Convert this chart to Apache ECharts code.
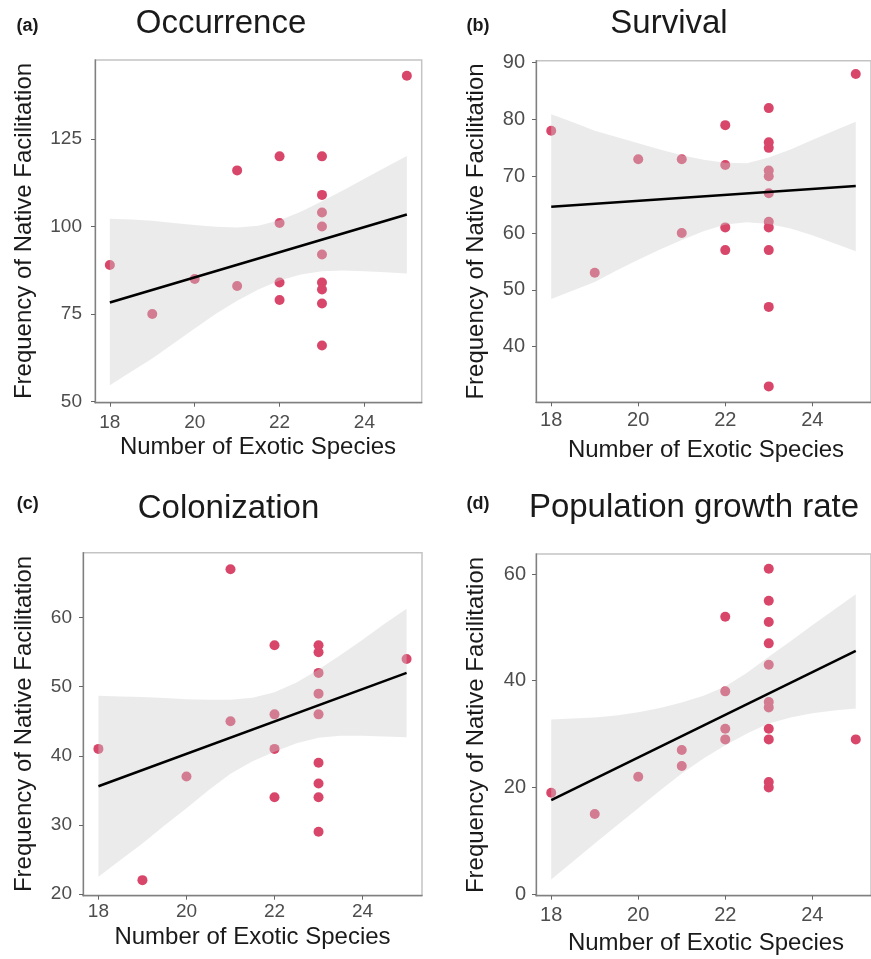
<!DOCTYPE html>
<html><head><meta charset="utf-8">
<script src="https://cdn.jsdelivr.net/npm/echarts@6/dist/echarts.min.js"></script>
<style>html,body{margin:0;padding:0;background:#fff}#c{width:871px;height:959px}</style>
</head><body><div id="c"></div>
<script>
// ---- tick labels ----
const xTicks = [18, 20, 22, 24];
const occTicks = [50, 75, 100, 125];
const survTicks = [40, 50, 60, 70, 80, 90];
const colTicks = [20, 30, 40, 50, 60];
const popTicks = [0, 20, 40, 60];

// ---- observations ----
const occX = [18, 19, 20, 21, 21, 22, 22, 22, 22, 23, 23, 23, 23, 23, 23, 23, 23, 23, 25];
const occY = [89, 75, 85, 116, 83, 120, 101, 84, 79, 120, 109, 104, 100, 92, 84, 82, 78, 66, 143];

const survX = [18, 19, 20, 21, 21, 22, 22, 22, 22, 23, 23, 23, 23, 23, 23, 23, 23, 23, 23, 23, 25];
const survY = [78, 53, 73, 73, 60, 79, 72, 61, 57, 82, 76, 75, 71, 70, 67, 62, 61, 57, 47, 33, 88];

const colX = [18, 19, 20, 21, 21, 22, 22, 22, 22, 23, 23, 23, 23, 23, 23, 23, 23, 23, 25];
const colY = [41, 22, 37, 67, 45, 56, 46, 41, 34, 56, 55, 52, 49, 46, 39, 36, 34, 29, 54];

const popX = [18, 19, 20, 21, 21, 22, 22, 22, 22, 23, 23, 23, 23, 23, 23, 23, 23, 23, 23, 23, 25];
const popY = [19, 15, 22, 27, 24, 52, 38, 31, 29, 61, 55, 51, 47, 43, 36, 35, 31, 29, 21, 20, 29];

// ---- fitted lines ----
const fitX = [18, 25];
const occFit = [78.3, 103.4];
const survFit = [64.65, 68.3];
const colFit = [35.6, 52.0];
const popFit = [17.6, 45.6];

// ---- confidence bands ----
const bandX = [18, 18.5, 19, 19.5, 20, 20.5, 21, 21.5, 22, 22.5, 23, 23.5, 24, 24.5, 25];
const occUpper = [102.2, 102.0, 101.6, 101.0, 100.4, 99.9, 99.7, 100.2, 101.8, 104.2, 107.2, 110.3, 113.6, 116.9, 120.1];
const occLower = [54.7, 58.5, 62.3, 66.6, 70.9, 75.1, 78.8, 82.0, 84.6, 86.3, 87.2, 87.4, 87.2, 86.9, 86.6];
const survUpper = [80.9, 79.5, 78.0, 76.9, 75.8, 74.7, 73.7, 72.9, 72.4, 72.3, 73.3, 74.7, 76.4, 78.0, 79.6];
const survLower = [48.4, 49.9, 51.4, 53.4, 55.3, 57.1, 58.8, 60.3, 61.5, 61.9, 61.6, 60.8, 59.6, 58.2, 56.8];
const colUpper = [48.7, 48.6, 48.5, 48.35, 48.2, 48.1, 48.1, 48.4, 49.2, 50.6, 52.5, 54.6, 56.8, 59.1, 61.3];
const colLower = [22.5, 24.9, 27.3, 29.9, 32.4, 35.0, 37.4, 39.2, 40.6, 41.8, 42.6, 42.9, 42.9, 42.8, 42.7];
const popUpper = [32.75, 32.9, 33.1, 33.5, 34.1, 34.9, 35.9, 37.2, 38.9, 41.5, 44.5, 47.4, 50.4, 53.3, 56.2];
const popLower = [2.75, 6.1, 9.5, 12.8, 16.1, 19.4, 22.6, 25.4, 27.9, 30.1, 32.0, 33.1, 33.9, 34.4, 34.8];

const FONT = "'Liberation Sans', Arial, Helvetica, sans-serif";
const POINT = '#D8476A';
const BAND = 'rgba(204,204,204,0.4)';

const panels = [
  {x: occX, y: occY, fit: occFit, up: occUpper, lo: occLower, yTicks: occTicks,
   grid: {left: 95, top: 60, width: 326.7, height: 342.7}, ymin: 49.7, ymax: 147.5, fs: 19, xm: 11, ym: 13},
  {x: survX, y: survY, fit: survFit, up: survUpper, lo: survLower, yTicks: survTicks,
   grid: {left: 536, top: 60.7, width: 339.6, height: 341.6}, ymin: 30.2, ymax: 90.35, fs: 20, xm: 8, ym: 11},
  {x: colX, y: colY, fit: colFit, up: colUpper, lo: colLower, yTicks: colTicks,
   grid: {left: 83, top: 552.7, width: 339, height: 343}, ymin: 19.75, ymax: 69.4, fs: 19, xm: 7, ym: 11},
  {x: popX, y: popY, fit: popFit, up: popUpper, lo: popLower, yTicks: popTicks,
   grid: {left: 536, top: 554, width: 339.6, height: 341.7}, ymin: -0.3, ymax: 63.75, fs: 20, xm: 10, ym: 10}
];

const grids = [], xAxes = [], yAxes = [], series = [];
panels.forEach((p, i) => {
  grids.push(Object.assign({show: true, borderColor: '#C4C4C4', borderWidth: 1.5, backgroundColor: 'transparent', containLabel: false}, p.grid));
  xAxes.push({
    type: 'value', gridIndex: i, min: 17.65, max: 25.35,
    splitLine: {show: false},
    axisLine: {show: true, onZero: false, lineStyle: {color: '#808080', width: 1.3}},
    axisTick: {show: true, length: 4, customValues: xTicks, lineStyle: {color: '#666'}},
    axisLabel: {customValues: xTicks, margin: p.xm, fontSize: p.fs, color: '#4D4D4D', fontFamily: FONT}
  });
  yAxes.push({
    type: 'value', gridIndex: i, min: p.ymin, max: p.ymax,
    splitLine: {show: false},
    axisLine: {show: true, onZero: false, lineStyle: {color: '#808080', width: 1.3}},
    axisTick: {show: true, length: 4, customValues: p.yTicks, lineStyle: {color: '#666'}},
    axisLabel: {customValues: p.yTicks, margin: p.ym, fontSize: p.fs, color: '#4D4D4D', fontFamily: FONT}
  });
  series.push({
    type: 'scatter', xAxisIndex: i, yAxisIndex: i, z: 2, silent: true,
    symbolSize: 10, itemStyle: {color: POINT, opacity: 1},
    data: p.x.map((v, k) => [v, p.y[k]])
  });
  const up = p.up, lo = p.lo;
  series.push({
    type: 'custom', xAxisIndex: i, yAxisIndex: i, z: 3, silent: true,
    data: bandX.map((v, k) => [v, lo[k], up[k]]),
    encode: {x: 0, y: [1, 2]},
    renderItem: function (params, api) {
      if (params.dataIndex !== 0) return null;
      const pts = [];
      for (let k = 0; k < bandX.length; k++) pts.push(api.coord([bandX[k], up[k]]));
      for (let k = bandX.length - 1; k >= 0; k--) pts.push(api.coord([bandX[k], lo[k]]));
      return {type: 'polygon', shape: {points: pts}, style: {fill: BAND, stroke: null}};
    }
  });
  series.push({
    type: 'line', xAxisIndex: i, yAxisIndex: i, z: 4, silent: true,
    symbol: 'none', lineStyle: {color: '#000', width: 2.5},
    data: fitX.map((v, k) => [v, p.fit[k]])
  });
});

function txt(x, y, text, size, opts) {
  return Object.assign({
    type: 'text', x: x, y: y, silent: true,
    style: {text: text, font: (opts && opts.bold ? 'bold ' : '') + size + 'px ' + FONT,
            fill: '#111', align: 'center', verticalAlign: 'middle'}
  }, opts && opts.rot ? {rotation: Math.PI / 2} : {});
}

const graphics = [
  txt(27.5, 26, '(a)', 18, {bold: true}),
  txt(221, 24, 'Occurrence', 33),
  txt(478, 26, '(b)', 18, {bold: true}),
  txt(669, 24, 'Survival', 33),
  txt(27.7, 504, '(c)', 18, {bold: true}),
  txt(228.5, 509, 'Colonization', 33),
  txt(478, 504, '(d)', 18, {bold: true}),
  txt(694, 507.5, 'Population growth rate', 33),
  txt(24, 231, 'Frequency of Native Facilitation', 24, {rot: true}),
  txt(476, 231.5, 'Frequency of Native Facilitation', 24, {rot: true}),
  txt(24, 724, 'Frequency of Native Facilitation', 24, {rot: true}),
  txt(476, 725, 'Frequency of Native Facilitation', 24, {rot: true}),
  txt(258, 447, 'Number of Exotic Species', 24),
  txt(706, 450, 'Number of Exotic Species', 24),
  txt(252.5, 937, 'Number of Exotic Species', 24),
  txt(706, 943, 'Number of Exotic Species', 24)
];
graphics.forEach(g => { g.style.fill = '#1a1a1a'; });

const chart = echarts.init(document.getElementById('c'), null, {renderer: 'canvas', width: 871, height: 959});
chart.setOption({
  animation: false,
  backgroundColor: '#ffffff',
  grid: grids, xAxis: xAxes, yAxis: yAxes, series: series,
  graphic: {elements: graphics}
});
</script></body></html>
